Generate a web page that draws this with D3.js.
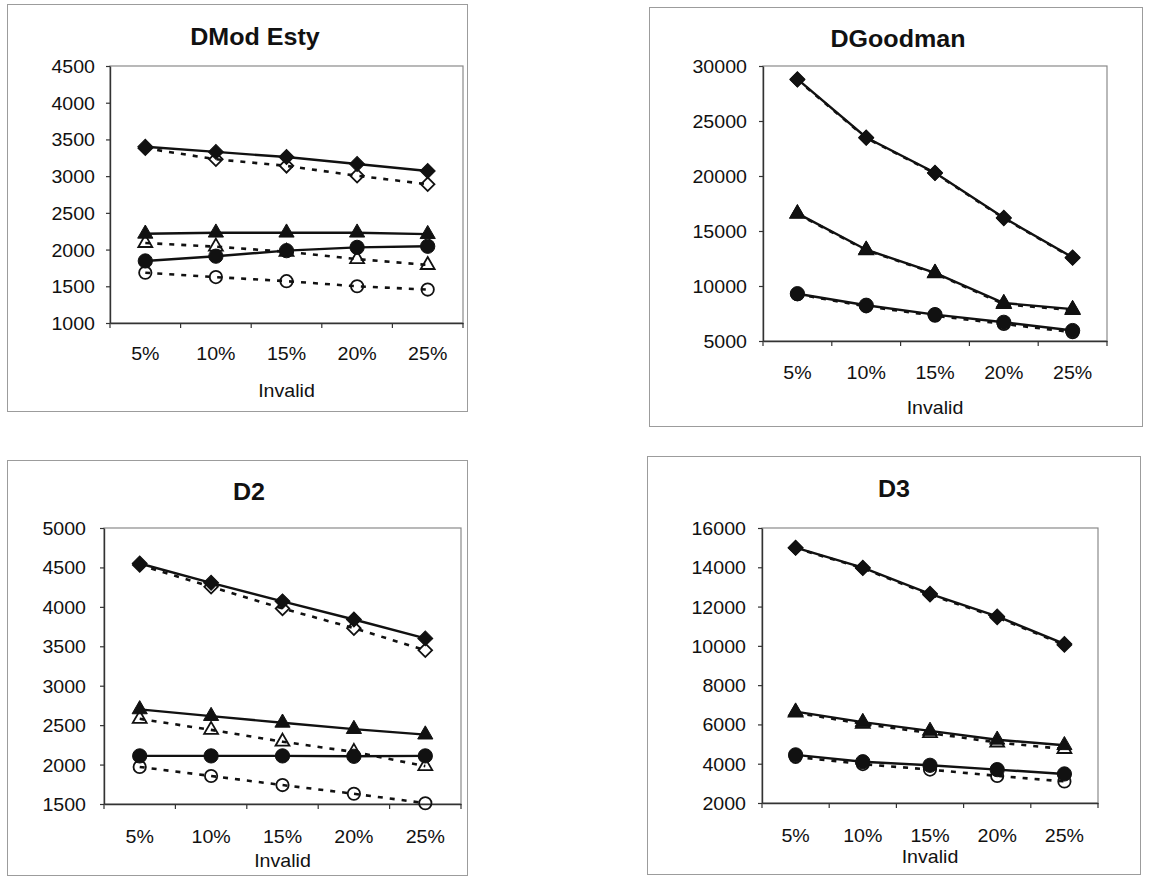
<!DOCTYPE html>
<html>
<head>
<meta charset="utf-8">
<script src="https://cdn.jsdelivr.net/npm/d3@7"></script>
<style>
  html, body { margin: 0; padding: 0; background: #fff; }
  svg { display: block; }
</style>
</head>
<body>
<svg id="chart" width="1153" height="876"></svg>
<script>
// Invalid-rate categories shared by every panel
const categories = ["5%", "10%", "15%", "20%", "25%"];
const axisLabel = "Invalid";
const titles = ["DMod Esty", "DGoodman", "D2", "D3"];

// Y axis tick values per panel
const estyTicks = [1000, 1500, 2000, 2500, 3000, 3500, 4000, 4500];
const goodmanTicks = [5000, 10000, 15000, 20000, 25000, 30000];
const d2Ticks = [1500, 2000, 2500, 3000, 3500, 4000, 4500, 5000];
const d3Ticks = [2000, 4000, 6000, 8000, 10000, 12000, 14000, 16000];

// DMod Esty
const estyDiamond      = [3400, 3330, 3260, 3165, 3070];
const estyDiamondOpen  = [3380, 3230, 3140, 3005, 2890];
const estyTriangle     = [2215, 2230, 2230, 2230, 2210];
const estyTriangleOpen = [2090, 2040, 1970, 1870, 1790];
const estyCircle       = [1845, 1910, 1985, 2030, 2045];
const estyCircleOpen   = [1685, 1625, 1570, 1500, 1455];

// DGoodman
const goodmanDiamond      = [28800, 23500, 20300, 16200, 12600];
const goodmanDiamondOpen  = [28750, 23450, 20250, 16150, 12550];
const goodmanTriangle     = [16600, 13300, 11200, 8450, 7900];
const goodmanTriangleOpen = [16550, 13250, 11150, 8350, 7800];
const goodmanCircle       = [9300, 8250, 7400, 6700, 5950];
const goodmanCircleOpen   = [9250, 8150, 7300, 6550, 5800];

// D2
const d2Diamond      = [4550, 4305, 4070, 3840, 3600];
const d2DiamondOpen  = [4530, 4255, 3980, 3730, 3450];
const d2Triangle     = [2700, 2615, 2530, 2450, 2380];
const d2TriangleOpen = [2580, 2440, 2290, 2160, 1980];
const d2Circle       = [2110, 2110, 2110, 2105, 2110];
const d2CircleOpen   = [1970, 1855, 1740, 1630, 1510];

// D3
const d3Diamond      = [15000, 13980, 12650, 11500, 10100];
const d3DiamondOpen  = [14980, 13950, 12600, 11450, 10050];
const d3Triangle     = [6650, 6120, 5670, 5220, 4940];
const d3TriangleOpen = [6600, 6030, 5560, 5080, 4750];
const d3Circle       = [4450, 4100, 3920, 3700, 3480];
const d3CircleOpen   = [4350, 3980, 3700, 3380, 3100];

const panels = [
  { title: titles[0], ticks: estyTicks,
    frame: [7, 4, 467, 411], plot: [110, 66, 463, 323], titleX: 255, titleY: 45,
    labelY: 37, nameY: 397, gap: 15,
    series: [estyDiamondOpen, estyTriangleOpen, estyCircleOpen, estyDiamond, estyTriangle, estyCircle] },
  { title: titles[1], ticks: goodmanTicks,
    frame: [649, 7, 1142, 426], plot: [763, 66, 1107, 341], titleX: 898, titleY: 47,
    labelY: 38, nameY: 414, gap: 16,
    series: [goodmanDiamondOpen, goodmanTriangleOpen, goodmanCircleOpen, goodmanDiamond, goodmanTriangle, goodmanCircle] },
  { title: titles[2], ticks: d2Ticks,
    frame: [7, 460, 467, 875], plot: [104, 528, 461, 804], titleX: 249, titleY: 500,
    labelY: 39, nameY: 867, gap: 18,
    series: [d2DiamondOpen, d2TriangleOpen, d2CircleOpen, d2Diamond, d2Triangle, d2Circle] },
  { title: titles[3], ticks: d3Ticks,
    frame: [647, 456, 1140, 874], plot: [762, 528, 1098, 803], titleX: 894, titleY: 497,
    labelY: 39, nameY: 863, gap: 16,
    series: [d3DiamondOpen, d3TriangleOpen, d3CircleOpen, d3Diamond, d3Triangle, d3Circle] }
];

// Marker and line style for the six series (open/dashed first, filled/solid on top)
const seriesStyle = [
  { shape: "diamond",  open: true },
  { shape: "triangle", open: true },
  { shape: "circle",   open: true },
  { shape: "diamond",  open: false },
  { shape: "triangle", open: false },
  { shape: "circle",   open: false }
];

const FONT = "'Liberation Sans', Arial, sans-serif";
const SX = 1.09;   // slight horizontal widening of the lettering
const ink = "#111";

const svg = d3.select("#chart");

function symbolFor(shape, open) {
  if (shape === "diamond") return d3.symbol(d3.symbolSquare, open ? 92 : 112)();
  if (shape === "triangle") return d3.symbol(d3.symbolTriangle, open ? 84 : 100)();
  return d3.symbol(d3.symbolCircle, open ? 120 : 160)();
}

function stretchedText(sel, x, y, txt, size, anchor, weight) {
  return sel.append("text")
    .attr("transform", `translate(${x},${y}) scale(${SX},1)`)
    .attr("text-anchor", anchor)
    .attr("font-family", FONT)
    .attr("font-size", size)
    .attr("font-weight", weight || "normal")
    .attr("fill", ink)
    .text(txt);
}

panels.forEach(p => {
  const g = svg.append("g");
  const [fx0, fy0, fx1, fy1] = p.frame;
  const [px0, py0, px1, py1] = p.plot;

  // panel frame
  g.append("rect")
    .attr("x", fx0 + 0.5).attr("y", fy0 + 0.5)
    .attr("width", fx1 - fx0).attr("height", fy1 - fy0)
    .attr("fill", "#fff").attr("stroke", "#9c9c9c").attr("stroke-width", 1);

  const x = d3.scaleBand().domain(categories).range([px0, px1]).padding(0);
  const y = d3.scaleLinear().domain(d3.extent(p.ticks)).range([py1, py0]);

  // plot area border
  g.append("rect")
    .attr("x", px0).attr("y", py0)
    .attr("width", px1 - px0).attr("height", py1 - py0)
    .attr("fill", "none").attr("stroke", "#8a8a8a").attr("stroke-width", 1.2);

  // y axis
  const yAxis = g.append("g")
    .attr("transform", `translate(${px0},0)`)
    .call(d3.axisLeft(y).tickValues(p.ticks).tickSize(4).tickSizeOuter(0).tickFormat(d3.format("d")));
  yAxis.select(".domain").attr("stroke", "#333").attr("stroke-width", 1.4);
  yAxis.selectAll(".tick line").attr("stroke", "#333").attr("stroke-width", 1.2);
  yAxis.selectAll(".tick text")
    .attr("x", null).attr("dy", null)
    .attr("transform", `translate(${-p.gap},6.5) scale(${SX},1)`)
    .attr("font-family", FONT).attr("font-size", 18).attr("fill", ink)
    .attr("text-anchor", "end");

  // x axis with category labels at band centres and ticks at band edges
  const xAxis = g.append("g")
    .attr("transform", `translate(0,${py1})`)
    .call(d3.axisBottom(x).tickSize(0).tickSizeOuter(0));
  xAxis.select(".domain").attr("stroke", "#333").attr("stroke-width", 1.4);
  xAxis.selectAll(".tick text")
    .attr("y", null).attr("dy", null)
    .attr("transform", `translate(0,${p.labelY}) scale(${SX},1)`)
    .attr("font-family", FONT).attr("font-size", 18).attr("fill", ink);
  const edges = categories.map(c => x(c)).concat([x.range()[1]]);
  xAxis.selectAll("line.edge").data(edges).join("line")
    .attr("class", "edge")
    .attr("x1", d => d).attr("x2", d => d)
    .attr("y1", 0).attr("y2", 5)
    .attr("stroke", "#333").attr("stroke-width", 1.2);

  // title and axis name
  stretchedText(g, p.titleX, p.titleY, p.title, 23, "middle", "bold");
  stretchedText(g, (px0 + px1) / 2, p.nameY, axisLabel, 18, "middle");

  // series lines and markers; open markers are unfilled so the dashes show through
  const line = d3.line().x((d, i) => x(categories[i]) + x.bandwidth() / 2).y(d => y(d));
  p.series.forEach((vals, si) => {
    const st = seriesStyle[si];
    g.append("path")
      .attr("d", line(vals))
      .attr("fill", "none")
      .attr("stroke", "#111")
      .attr("stroke-width", st.open ? 2.6 : 2.4)
      .attr("stroke-dasharray", st.open ? "5,7" : null);
    g.selectAll(null).data(vals).join("path")
      .attr("d", symbolFor(st.shape, st.open))
      .attr("transform", (d, i) => {
        const cx = x(categories[i]) + x.bandwidth() / 2;
        return `translate(${cx},${y(d)})` + (st.shape === "diamond" ? " rotate(45)" : "");
      })
      .attr("fill", st.open ? "none" : "#111")
      .attr("stroke", "#111")
      .attr("stroke-width", st.open ? 1.8 : 1);
  });
});
</script>
</body>
</html>
